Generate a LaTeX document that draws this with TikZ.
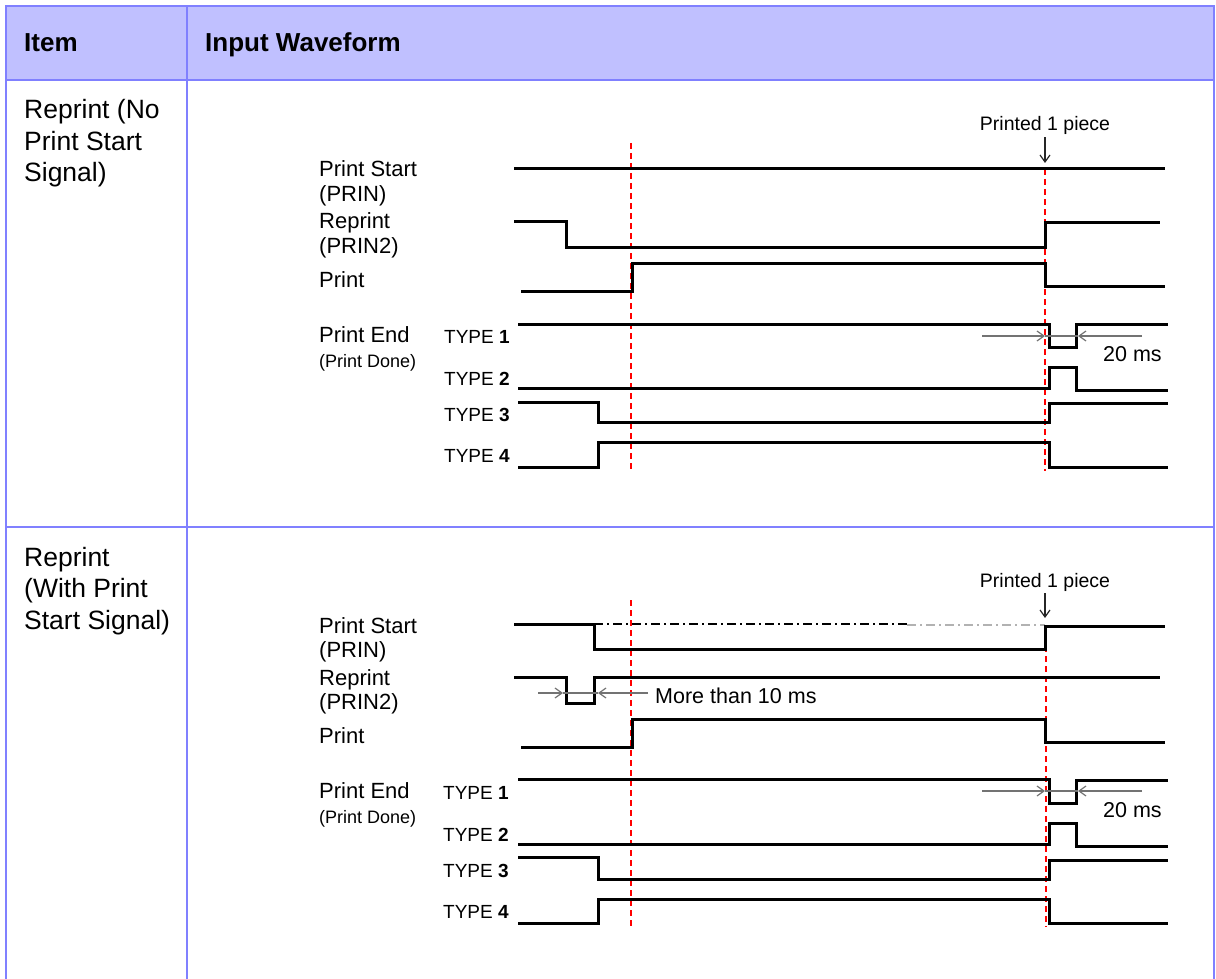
\documentclass[tikz,border=0pt]{standalone}
\usepackage{fontspec}
\setmainfont{Liberation Sans}
\usepackage{tikz}
\usetikzlibrary{arrows.meta}
\definecolor{hdrfill}{RGB}{192,192,255}
\definecolor{gridline}{RGB}{128,128,255}

\begin{document}
\begin{tikzpicture}[
    x=1pt, y=-1pt,
    grid/.style={draw=gridline, line width=2pt},
    hdr/.style={font=\fontsize{26}{30}\selectfont\bfseries, anchor=base west, inner sep=0pt},
    item/.style={font=\fontsize{26.5}{31.5}\selectfont, anchor=base west, align=left, inner sep=0pt},
    sig/.style={font=\fontsize{22}{24}\selectfont, anchor=base west, inner sep=0pt},
    sigsmall/.style={font=\fontsize{18}{20}\selectfont, anchor=base west, inner sep=0pt},
    typ/.style={font=\fontsize{19}{21}\selectfont, anchor=base west, inner sep=0pt},
    note/.style={font=\fontsize{19.5}{22}\selectfont, anchor=base, inner sep=0pt, outer sep=2pt},
    dimtext/.style={font=\fontsize{21.5}{24}\selectfont, anchor=base west, inner sep=0pt},
    wave/.style={line width=3pt, line join=miter},
    tmark/.style={red, line width=1.6pt, dash pattern=on 6pt off 4pt},
    dim/.style={draw=black!55, line width=1.2pt},
    dimtip/.style={dim, -{Straight Barb[length=7pt,width=10pt]}},
    ptr/.style={black!85, line width=1.2pt, -{Straight Barb[length=7pt,width=10pt]}},
    hold/.style={line width=1.4pt, dash pattern=on 9pt off 4pt on 2pt off 4pt}
]
\useasboundingbox (0,0) rectangle (1216,979);

% --- Table ---
\fill[hdrfill] (6,6) rectangle (1214,80);
\draw[grid] (6,979) -- (6,6) -- (1214,6) -- (1214,979);
\draw[grid] (6,80) -- (1214,80);
\draw[grid] (6,527) -- (1214,527);
\draw[grid] (187,6) -- (187,979);

\node[hdr] (hItem) at (24,52)  {Item};
\node[hdr] (hWave) at (205,52) {Input Waveform};

% base anchor sits on the last line
\node[item] (rowA) at (24,182) {Reprint (No\\Print Start\\Signal)};
\node[item] (rowB) at (24,629) {Reprint\\(With Print\\Start Signal)};

% --- Row 1: labels ---
\node[sig]      (startA)  at (319,177) {Print Start};
\node[sig]      (prinA)   at (319,201) {(PRIN)};
\node[sig]      (reprA)   at (319,229) {Reprint};
\node[sig]      (prin2A)  at (319,253) {(PRIN2)};
\node[sig]      (printA)  at (319,287) {Print};
\node[sig]      (endA)    at (319,342) {Print End};
\node[sigsmall] (doneA)   at (319,367) {(Print Done)};
\node[typ]      (t1A)     at (444,343) {TYPE \textbf{1}};
\node[typ]      (t2A)     at (444,385) {TYPE \textbf{2}};
\node[typ]      (t3A)     at (444,421) {TYPE \textbf{3}};
\node[typ]      (t4A)     at (444,462) {TYPE \textbf{4}};

% --- Row 1: timing marks ---
\draw[tmark] (631,143) -- (631,471);
\draw[tmark] (1045,169) -- (1045,471);

% --- Row 1: waveforms ---
\draw[wave] (514,169) -- (1165,169);
\draw[wave] (514,221) -- (566,221) -- (566,247) -- (1045,247) -- (1045,222) -- (1160,222);
\draw[wave] (521,291) -- (632,291) -- (632,263) -- (1045,263) -- (1045,286) -- (1165,286);
\draw[wave] (518,324) -- (1049,324) -- (1049,347) -- (1076,347) -- (1076,324) -- (1168,324);
\draw[wave] (518,388) -- (1049,388) -- (1049,367) -- (1076,367) -- (1076,390) -- (1168,390);
\draw[wave] (518,402) -- (598,402) -- (598,422) -- (1049,422) -- (1049,403) -- (1168,403);
\draw[wave] (518,467) -- (598,467) -- (598,442) -- (1049,442) -- (1049,467) -- (1168,467);

% --- Row 1: annotations ---
\node[note] (ppA) at (1045,131) {Printed 1 piece};
\coordinate (ppTipA) at (1045,163);
\draw[ptr] (ppA) -- (ppTipA);

\coordinate (wA1) at (982,336);
\coordinate (wA2) at (1045,336);
\coordinate (wA3) at (1078,336);
\coordinate (wA4) at (1142,336);
\draw[dim] (wA2) -- (wA3);
\draw[dimtip] (wA1) -- (wA2);
\draw[dimtip] (wA4) -- (wA3);
\node[dimtext] (msA) at (1103,361) {20 ms};

% --- Row 2: labels ---
\node[sig]      (startB)  at (319,633) {Print Start};
\node[sig]      (prinB)   at (319,657) {(PRIN)};
\node[sig]      (reprB)   at (319,685) {Reprint};
\node[sig]      (prin2B)  at (319,709) {(PRIN2)};
\node[sig]      (printB)  at (319,743) {Print};
\node[sig]      (endB)    at (319,798) {Print End};
\node[sigsmall] (doneB)   at (319,823) {(Print Done)};
\node[typ]      (t1B)     at (443,799) {TYPE \textbf{1}};
\node[typ]      (t2B)     at (443,841) {TYPE \textbf{2}};
\node[typ]      (t3B)     at (443,877) {TYPE \textbf{3}};
\node[typ]      (t4B)     at (443,918) {TYPE \textbf{4}};

% --- Row 2: timing marks ---
\draw[tmark] (631,600) -- (631,927);
\draw[tmark] (1046,626) -- (1046,927);

% --- Row 2: waveforms ---
\draw[hold] (594,624) -- (907,624);
\draw[hold, black!30] (907,625) -- (1045,625);
\draw[wave] (514,624) -- (594,624) -- (594,649) -- (1045,649) -- (1045,626) -- (1165,626);
\draw[wave] (514,677) -- (566,677) -- (566,703) -- (594,703) -- (594,677) -- (1160,677);
\draw[wave] (521,747) -- (632,747) -- (632,719) -- (1045,719) -- (1045,742) -- (1165,742);
\draw[wave] (518,779) -- (1049,779) -- (1049,803) -- (1076,803) -- (1076,780) -- (1168,780);
\draw[wave] (518,844) -- (1049,844) -- (1049,823) -- (1076,823) -- (1076,846) -- (1168,846);
\draw[wave] (518,857) -- (598,857) -- (598,879) -- (1049,879) -- (1049,860) -- (1168,860);
\draw[wave] (518,923) -- (598,923) -- (598,899) -- (1049,899) -- (1049,923) -- (1168,923);

% --- Row 2: annotations ---
\node[note] (ppB) at (1045,587) {Printed 1 piece};
\coordinate (ppTipB) at (1045,618);
\draw[ptr] (ppB) -- (ppTipB);

\coordinate (rB1) at (538,693);
\coordinate (rB2) at (563,693);
\coordinate (rB3) at (598,693);
\coordinate (rB4) at (648,693);
\draw[dim] (rB2) -- (rB3);
\draw[dimtip] (rB1) -- (rB2);
\draw[dimtip] (rB4) -- (rB3);
\node[dimtext] (tenB) at (655,703) {More than 10 ms};

\coordinate (wB1) at (982,791);
\coordinate (wB2) at (1045,791);
\coordinate (wB3) at (1078,791);
\coordinate (wB4) at (1142,791);
\draw[dim] (wB2) -- (wB3);
\draw[dimtip] (wB1) -- (wB2);
\draw[dimtip] (wB4) -- (wB3);
\node[dimtext] (msB) at (1103,817) {20 ms};
\end{tikzpicture}
\end{document}
